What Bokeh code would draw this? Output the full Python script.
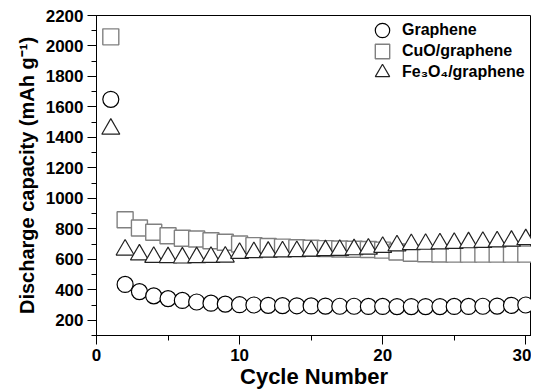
from bokeh.plotting import figure
from bokeh.models import Range1d, SingleIntervalTicker, Legend, LegendItem, ColumnDataSource
from bokeh.embed import file_html
from bokeh.resources import INLINE

cycles = list(range(1, 31))
graphene = [1650, 435, 388, 360, 342, 330, 320, 312, 306, 302, 300, 298, 296, 295, 294,
            293, 292, 292, 291, 291, 290, 290, 290, 290, 291, 291, 292, 293, 298, 300]
cuo_graphene = [2060, 860, 805, 778, 755, 738, 733, 722, 712, 700, 690, 684, 680, 676, 673,
                670, 668, 666, 664, 660, 648, 640, 636, 635, 634, 634, 634, 634, 634, 634]
fe3o4_graphene = [1455, 662, 630, 614, 612, 610, 612, 614, 616, 640, 645, 648, 650, 652, 655,
                  658, 660, 664, 668, 680, 690, 698, 700, 703, 706, 710, 713, 716, 720, 730]
labels = ["Graphene", "CuO/graphene", "Fe\u2083O\u2084/graphene"]

src = ColumnDataSource(dict(x=cycles, g=graphene, c=cuo_graphene, f=fe3o4_graphene))

FONT = "Liberation Sans"

p = figure(width=531, height=392, output_backend="svg", toolbar_location=None,
           x_range=Range1d(0, 30.4), y_range=Range1d(100, 2200),
           min_border_left=96, min_border_right=0, min_border_top=15, min_border_bottom=57)
p.xgrid.visible = False
p.ygrid.visible = False
p.outline_line_color = "black"
p.outline_line_width = 1
p.background_fill_color = "white"

r_c = p.scatter("x", "c", source=src, marker="square", size=16, fill_color="white",
                line_color="#808080", line_width=1.4)
r_f = p.scatter("x", "f", source=src, marker="triangle", size=18, fill_color="white",
                line_color="#222222", line_width=1.2)
r_g = p.scatter("x", "g", source=src, marker="circle", size=16, fill_color="white",
                line_color="black", line_width=1.2)

p.xaxis.ticker = SingleIntervalTicker(interval=10, num_minor_ticks=2)
p.yaxis.ticker = SingleIntervalTicker(interval=200, num_minor_ticks=2)

for ax in (p.xaxis[0], p.yaxis[0]):
    ax.axis_line_color = "black"
    ax.axis_line_width = 1
    ax.major_tick_line_color = "black"
    ax.minor_tick_line_color = "black"
    ax.major_tick_in = 0
    ax.major_tick_out = 9
    ax.minor_tick_in = 0
    ax.minor_tick_out = 5
    ax.major_label_text_font = FONT
    ax.major_label_text_font_style = "bold"
    ax.major_label_text_font_size = "17px"
    ax.major_label_text_color = "black"
    ax.major_label_standoff = 4
    ax.axis_label_text_font = FONT
    ax.axis_label_text_font_style = "bold"
    ax.axis_label_text_color = "black"

p.xaxis.axis_label = "Cycle Number"
p.xaxis.axis_label_text_font_size = "22px"
p.xaxis.axis_label_standoff = 0
p.yaxis.axis_label = "Discharge capacity (mAh g\u207b\u00b9)"
p.yaxis.axis_label_text_font_size = "20px"
p.yaxis.axis_label_standoff = 5

common = dict(glyph_width=36, glyph_height=36, padding=0, margin=0, label_standoff=2,
              label_text_font=FONT, label_text_font_style="bold",
              label_text_font_size="16px", label_text_color="black",
              border_line_alpha=0, background_fill_alpha=0)
for lab, rend, loc in zip(labels, [r_g, r_c, r_f], [(268, 287), (268, 266), (268, 245)]):
    p.add_layout(Legend(items=[LegendItem(label=lab, renderers=[rend])], location=loc, **common),
                 "center")

open("out.html", "w").write(file_html(p, INLINE))
